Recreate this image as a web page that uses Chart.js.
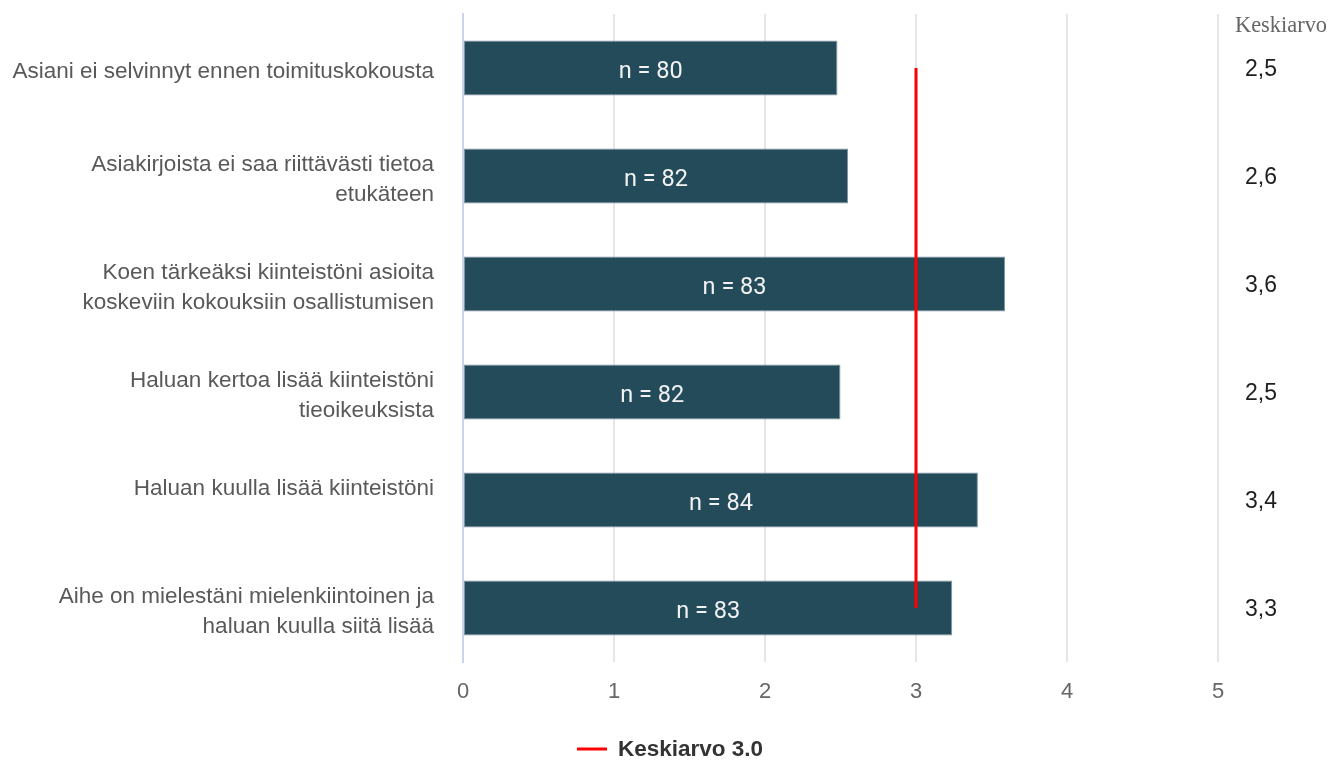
<!DOCTYPE html>
<html>
<head>
<meta charset="utf-8">
<script src="https://cdn.jsdelivr.net/npm/chart.js@4.4.0/dist/chart.umd.min.js"></script>
<style>
  html, body { margin: 0; padding: 0; background: #fff; }
  #wrap { width: 1343px; height: 760px; position: relative; }
</style>
</head>
<body>
<div id="wrap"><canvas id="chart"></canvas></div>
<script>
// categories (multi-line labels as arrays)
const labels = [
    ['Asiani ei selvinnyt ennen toimituskokousta'],
    ['Asiakirjoista ei saa riittävästi tietoa', 'etukäteen'],
    ['Koen tärkeäksi kiinteistöni asioita', 'koskeviin kokouksiin osallistumisen'],
    ['Haluan kertoa lisää kiinteistöni', 'tieoikeuksista'],
    ['Haluan kuulla lisää kiinteistöni', ''],
    ['Aihe on mielestäni mielenkiintoinen ja', 'haluan kuulla siitä lisää']
];
const barValues = [2.48, 2.55, 3.59, 2.50, 3.41, 3.24];
const nCounts = [80, 82, 83, 82, 84, 83];
const meanLabels = ['2,5', '2,6', '3,6', '2,5', '3,4', '3,3'];
const overallMean = [3, 3, 3, 3, 3, 3];
const xTicks = [0, 1, 2, 3, 4, 5];

const sans = "'Liberation Sans', Arial, sans-serif";

// "n = xx" inside the bars, the Keskiarvo column and the legend at the bottom
const extraText = {
    id: 'extraText',
    afterDatasetsDraw(chart) {
        const ctx = chart.ctx;
        const meta = chart.getDatasetMeta(0);
        const yScale = chart.scales.y;
        ctx.save();
        ctx.textBaseline = 'middle';
        meta.data.forEach((bar, i) => {
            const cx = (bar.x + bar.base) / 2;
            ctx.font = "23.5px Roboto, sans-serif";
            ctx.fillStyle = '#f2f2f2';
            ctx.textAlign = 'center';
            ctx.fillText('n = ' + nCounts[i], cx, bar.y + 4);

            ctx.font = '23px ' + sans;
            ctx.fillStyle = '#1e1e1e';
            ctx.textAlign = 'left';
            ctx.fillText(meanLabels[i], 1245, yScale.getPixelForValue(i) + 2);
        });
        ctx.font = "22.4px 'Liberation Serif', 'Times New Roman', serif";
        ctx.fillStyle = '#666';
        ctx.textAlign = 'left';
        ctx.fillText('Keskiarvo', 1235, 26);

        // legend
        const ds = chart.data.datasets[1];
        ctx.strokeStyle = ds.borderColor;
        ctx.lineWidth = 3;
        ctx.beginPath();
        ctx.moveTo(577, 749);
        ctx.lineTo(607, 749);
        ctx.stroke();
        ctx.font = 'bold 22.5px ' + sans;
        ctx.fillStyle = '#333';
        ctx.fillText(ds.label, 618, 750);
        ctx.restore();
    }
};

new Chart(document.getElementById('chart'), {
    data: {
        labels: labels,
        datasets: [{
            type: 'bar',
            label: 'n',
            data: barValues,
            backgroundColor: '#244b5a',
            borderColor: '#7e949e',
            borderWidth: 1,
            borderSkipped: false,
            categoryPercentage: 1,
            barPercentage: 0.51,
            order: 2
        }, {
            type: 'line',
            label: 'Keskiarvo 3.0',
            data: overallMean,
            borderColor: '#ff0000',
            backgroundColor: '#ff0000',
            borderWidth: 3,
            pointRadius: 0,
            fill: false,
            order: 1
        }]
    },
    options: {
        indexAxis: 'y',
        responsive: true,
        maintainAspectRatio: false,
        animation: false,
        layout: { padding: { top: 14, right: 125, left: 0, bottom: 0 } },
        scales: {
            x: {
                min: 0,
                max: 5,
                afterBuildTicks: s => { s.ticks = xTicks.map(v => ({ value: v })); },
                grid: { color: '#e6e6e6', lineWidth: 2, drawTicks: false },
                border: { display: false },
                ticks: { color: '#666', padding: 17, font: { family: sans, size: 22 } },
                afterFit: s => { s.height = 98; s.paddingLeft = 0; s.paddingRight = 0; }
            },
            y: {
                grid: { display: false, drawTicks: false },
                border: { color: '#ccd6eb', width: 2 },
                ticks: { color: '#595959', padding: 29, labelOffset: 4, font: { family: sans, size: 22.5, lineHeight: 1.33 } },
                afterFit: s => { s.width = 463; s.paddingTop = 0; s.paddingBottom = 0; }
            }
        },
        plugins: {
            legend: { display: false },
            tooltip: { enabled: false }
        }
    },
    plugins: [extraText]
});
</script>
</body>
</html>
